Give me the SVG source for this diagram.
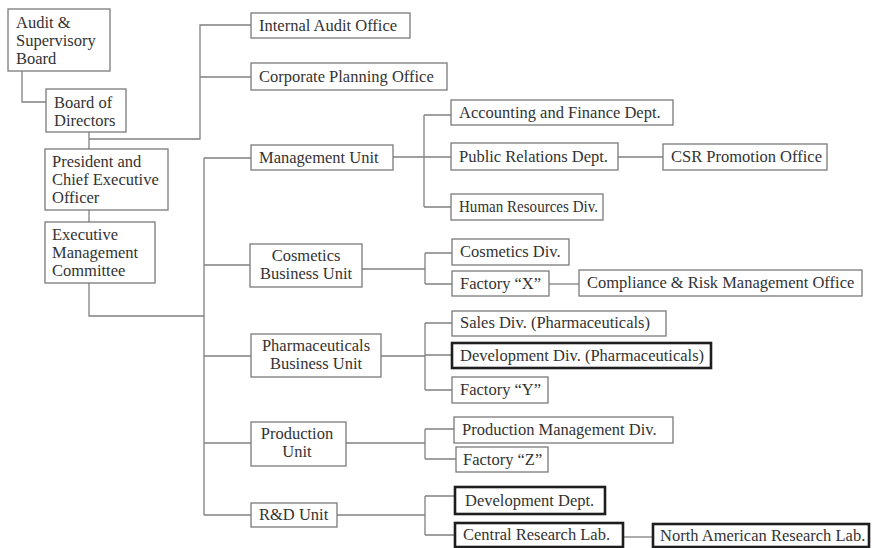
<svg xmlns="http://www.w3.org/2000/svg" width="872" height="548" viewBox="0 0 872 548">
<style>
  .bx { fill: #fff; stroke: #7a7a7a; stroke-width: 1.3; }
  .bk { fill: #fff; stroke: #1e1e1e; stroke-width: 2.6; }
  text { font-family: "Liberation Serif", "Times New Roman", serif; font-size: 16.5px; fill: #333; }
  .c { text-anchor: middle; }
  #connectors path { fill: none; stroke: #808080; stroke-width: 1.3; }
</style>
<rect width="872" height="548" fill="#fff"/>
<g id="connectors">
  <path d="M22,71 V102 H46"/>
  <path d="M89,132 V149"/>
  <path d="M89,139 H200 V25 H251 M200,77 H251"/>
  <path d="M89,210 V222"/>
  <path d="M89,283 V316 H204"/>
  <path d="M204,158 V515 M204,158 H251 M204,265 H250 M204,356 H251 M204,443 H251 M204,515 H251"/>
  <path d="M393,157 H424 M424,115 V207 M424,115 H451 M424,157 H451 M424,207 H451"/>
  <path d="M618,157 H663"/>
  <path d="M362,269 H425 M425,253 V284 M425,253 H452 M425,284 H452"/>
  <path d="M549,284 H579"/>
  <path d="M381,356 H425 M425,323 V390 M425,323 H452 M425,355 H452 M425,390 H452"/>
  <path d="M346,443 H425 M425,429 V459 M425,429 H454 M425,459 H456"/>
  <path d="M337,515 H425 M425,496 V535 M425,496 H455 M425,535 H455"/>
  <path d="M623,537 H653"/>
</g>
<g id="audit-board"><rect class="bx" x="8" y="9" width="102" height="62"/><text x="16" y="28">Audit &amp;<tspan x="16" dy="18">Supervisory</tspan><tspan x="16" dy="18">Board</tspan></text></g>
<g id="board-directors"><rect class="bx" x="46" y="89" width="80" height="43"/><text x="54" y="108">Board of<tspan x="54" dy="18">Directors</tspan></text></g>
<g id="president"><rect class="bx" x="45" y="149" width="123" height="61"/><text x="52" y="167">President and<tspan x="52" dy="18">Chief Executive</tspan><tspan x="52" dy="18">Officer</tspan></text></g>
<g id="exec-committee"><rect class="bx" x="45" y="222" width="110" height="61"/><text x="52" y="240">Executive<tspan x="52" dy="18">Management</tspan><tspan x="52" dy="18">Committee</tspan></text></g>
<g id="internal-audit"><rect class="bx" x="251" y="13" width="159" height="25"/><text x="259" y="31">Internal Audit Office</text></g>
<g id="corporate-planning"><rect class="bx" x="251" y="63" width="196" height="27"/><text x="259" y="82">Corporate Planning Office</text></g>
<g id="management-unit"><rect class="bx" x="251" y="145" width="142" height="25"/><text x="259" y="163">Management Unit</text></g>
<g id="accounting"><rect class="bx" x="451" y="100" width="222" height="25"/><text x="459" y="118">Accounting and Finance Dept.</text></g>
<g id="public-relations"><rect class="bx" x="451" y="143" width="167" height="27"/><text x="459" y="162">Public Relations Dept.</text></g>
<g id="csr"><rect class="bx" x="663" y="144" width="164" height="26"/><text x="671" y="162">CSR Promotion Office</text></g>
<g id="human-resources"><rect class="bx" x="451" y="194" width="152" height="26"/><text x="459" y="212" textLength="139" lengthAdjust="spacingAndGlyphs">Human Resources Div.</text></g>
<g id="cosmetics-bu"><rect class="bx" x="250" y="244" width="112" height="43"/><text class="c" x="306" y="261">Cosmetics<tspan x="306" dy="18">Business Unit</tspan></text></g>
<g id="cosmetics-div"><rect class="bx" x="452" y="239" width="117" height="26"/><text x="460" y="257">Cosmetics Div.</text></g>
<g id="factory-x"><rect class="bx" x="452" y="271" width="97" height="25"/><text x="460" y="289">Factory “X”</text></g>
<g id="compliance"><rect class="bx" x="579" y="270" width="283" height="26"/><text x="587" y="288">Compliance &amp; Risk Management Office</text></g>
<g id="pharma-bu"><rect class="bx" x="251" y="334" width="130" height="43"/><text class="c" x="316" y="351">Pharmaceuticals<tspan x="316" dy="18">Business Unit</tspan></text></g>
<g id="sales-div"><rect class="bx" x="452" y="311" width="214" height="25"/><text x="460" y="328">Sales Div. (Pharmaceuticals)</text></g>
<g id="development-div"><rect class="bk" x="452" y="343" width="259" height="25"/><text x="460" y="361">Development Div. (Pharmaceuticals)</text></g>
<g id="factory-y"><rect class="bx" x="452" y="377" width="96" height="26"/><text x="460" y="395">Factory “Y”</text></g>
<g id="production-unit"><rect class="bx" x="251" y="422" width="95" height="44"/><text class="c" x="297" y="439">Production<tspan x="297" dy="18">Unit</tspan></text></g>
<g id="production-mgmt"><rect class="bx" x="454" y="417" width="219" height="26"/><text x="462" y="435">Production Management Div.</text></g>
<g id="factory-z"><rect class="bx" x="456" y="447" width="92" height="25"/><text x="463" y="465">Factory “Z”</text></g>
<g id="rd-unit"><rect class="bx" x="251" y="503" width="86" height="24"/><text x="259" y="520">R&amp;D Unit</text></g>
<g id="development-dept"><rect class="bk" x="455" y="487" width="150" height="27"/><text x="465" y="506">Development Dept.</text></g>
<g id="central-research"><rect class="bk" x="455" y="523" width="168" height="24"/><text x="463" y="540">Central Research Lab.</text></g>
<g id="north-american-research"><rect class="bk" x="653" y="524" width="216" height="23"/><text x="660" y="541">North American Research Lab.</text></g>
</svg>
